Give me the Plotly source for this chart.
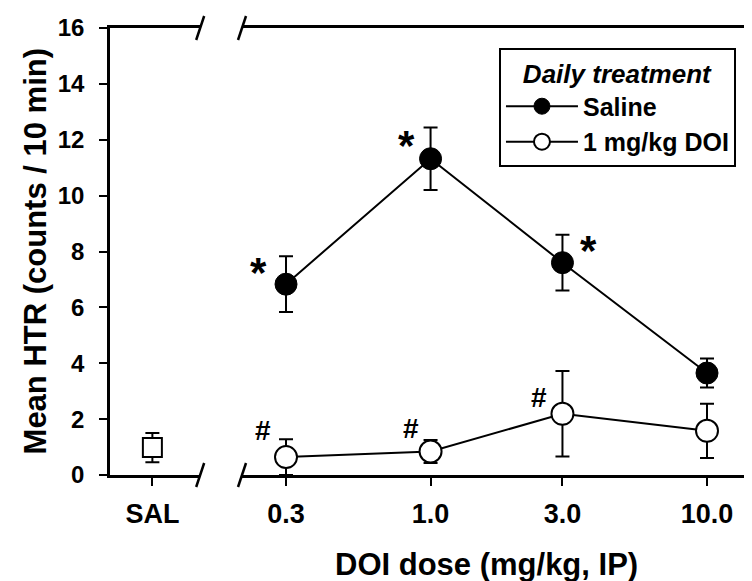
import plotly.graph_objects as go
import numpy as np

# ---- data ----
doses = [0.3, 1.0, 3.0, 10.0]
dose_labels = ["0.3", "1.0", "3.0", "10.0"]
saline_mean = [6.83, 11.32, 7.6, 3.65]
saline_sem = [1.0, 1.12, 1.0, 0.52]
doi_mean = [0.64, 0.84, 2.19, 1.58]
doi_sem = [0.64, 0.41, 1.53, 0.97]
sal_label = ["SAL"]
sal_mean = [0.98]
sal_sem = [0.52]

saline_marks = ["*", "*", "*", ""]
doi_marks = ["#", "#", "#", ""]

FONT = "Liberation Sans, Arial, sans-serif"

fig = go.Figure()

fig.add_trace(go.Scatter(
    x=sal_label, y=sal_mean, mode="markers", showlegend=False,
    error_y=dict(type="data", array=sal_sem, color="black", thickness=2, width=7),
    marker=dict(symbol="square", size=19, color="white", line=dict(color="black", width=2)),
    xaxis="x", yaxis="y",
))

fig.add_trace(go.Scatter(
    x=doses, y=saline_mean, mode="lines+markers", name="Saline",
    error_y=dict(type="data", array=saline_sem, color="black", thickness=2, width=7),
    line=dict(color="black", width=2),
    marker=dict(symbol="circle", size=22, color="black", line=dict(color="black", width=1)),
    xaxis="x2", yaxis="y2",
))

fig.add_trace(go.Scatter(
    x=doses, y=doi_mean, mode="lines+markers", name="1 mg/kg DOI",
    error_y=dict(type="data", array=doi_sem, color="black", thickness=2, width=7),
    line=dict(color="black", width=2),
    marker=dict(symbol="circle", size=22, color="white", line=dict(color="black", width=2)),
    xaxis="x2", yaxis="y2",
))

# significance marks
offs_sal = [(-28, 12), (-24, 13), (26, 12), (0, 0)]
for xv, yv, m, (dx, dy) in zip(doses, saline_mean, saline_marks, offs_sal):
    if m:
        fig.add_annotation(x=np.log10(xv), y=yv, xref="x2", yref="y2", text="<b>*</b>",
                           showarrow=False, xshift=dx, yshift=dy,
                           font=dict(family=FONT, size=42, color="black"))
offs_doi = [(-23, 27), (-20, 23), (-23, 16), (0, 0)]
for xv, yv, m, (dx, dy) in zip(doses, doi_mean, doi_marks, offs_doi):
    if m:
        fig.add_annotation(x=np.log10(xv), y=yv, xref="x2", yref="y2", text="<b>#</b>",
                           showarrow=False, xshift=dx, yshift=dy,
                           font=dict(family=FONT, size=28, color="black"))

# axis titles
fig.add_annotation(x=0.585, y=-0.2, xref="paper", yref="paper", text="<b>DOI dose (mg/kg, IP)</b>",
                   showarrow=False, xanchor="center", yanchor="middle",
                   font=dict(family=FONT, size=31, color="black"))
fig.add_annotation(x=-0.115, y=0.5, xref="paper", yref="paper", text="<b>Mean HTR (counts / 10 min)</b>",
                   showarrow=False, textangle=-90, xanchor="center", yanchor="middle",
                   font=dict(family=FONT, size=31, color="black"))

# axis break marks
for xref, xa in [("x domain", 1), ("x2 domain", 0)]:
    for ya in [0, 1]:
        fig.add_shape(type="line", xref=xref, yref="y domain", xsizemode="pixel", ysizemode="pixel",
                      xanchor=xa, yanchor=ya, x0=-4, x1=4, y0=-12, y1=12,
                      line=dict(color="black", width=2.5))

axis_common = dict(showgrid=False, zeroline=False, showline=True, linecolor="black", linewidth=2.5,
                   ticks="outside", tickcolor="black", tickwidth=2, ticklen=8)

fig.update_layout(
    width=752, height=581,
    margin=dict(l=102, r=6, t=15, b=114),
    paper_bgcolor="white", plot_bgcolor="white",
    font=dict(family=FONT, color="black"),
    xaxis=dict(domain=[0, 0.14], type="category", range=[-0.47, 0.53], mirror=True,
               anchor="y", tickfont=dict(size=27, family=FONT), ticklabelstandoff=5,
               tickvals=sal_label, ticktext=["<b>SAL</b>"], **axis_common),
    xaxis2=dict(domain=[0.205, 1], type="log", range=[-0.682, 1.170], mirror=True, anchor="y2",
                tickvals=doses, ticktext=[f"<b>{t}</b>" for t in dose_labels],
                tickfont=dict(size=27, family=FONT), ticklabelstandoff=5, **axis_common),
    yaxis=dict(range=[0, 16], dtick=2, anchor="x", tickfont=dict(size=24, family=FONT),
               tickvals=list(range(0, 17, 2)), ticktext=[f"<b>{v}</b>" for v in range(0, 17, 2)],
               ticklabelstandoff=10, **axis_common),
    yaxis2=dict(range=[0, 16], anchor="x2", side="right", showgrid=False, zeroline=False,
                showline=True, linecolor="black", linewidth=2.5, ticks="", showticklabels=False),
    legend=dict(x=0.972, xanchor="right", y=0.956, yanchor="top",
                bordercolor="black", borderwidth=2, bgcolor="white",
                font=dict(family=FONT, size=25, color="black", weight="bold"),
                itemwidth=72, tracegroupgap=0,
                title=dict(text="<b><i>Daily treatment</i></b>", side="top center",
                           font=dict(family=FONT, size=26, color="black"))),
)

fig.write_html("out.html")
